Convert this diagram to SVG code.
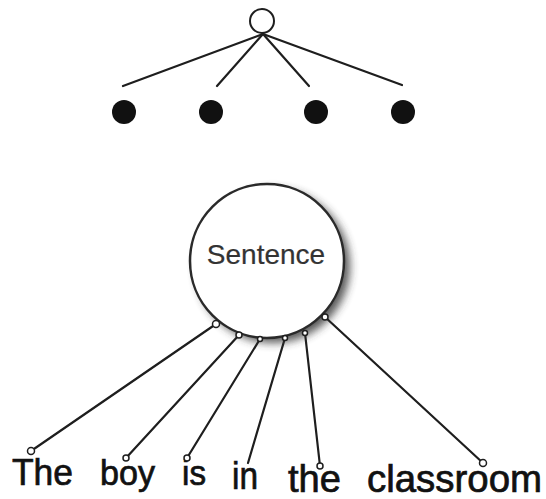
<svg xmlns="http://www.w3.org/2000/svg" width="546" height="499" viewBox="0 0 546 499">
<defs>
<filter id="shadow" x="-30%" y="-30%" width="160%" height="160%">
<feGaussianBlur stdDeviation="4"/>
</filter>
<style>
.ln{stroke:#1e1e1e;stroke-width:2.2;fill:none;stroke-linecap:round}
.mk{fill:#fff;stroke:#1e1e1e;stroke-width:1.5}
.dot{fill:#111}
.word{font-family:"Liberation Sans",Arial,sans-serif;fill:#111;stroke:#111;stroke-width:0.7}
</style>
</defs>
<rect width="546" height="499" fill="#fff"/>

<g id="tree-connectors">
<line class="ln" x1="263" y1="34" x2="123" y2="86"/>
<line class="ln" x1="263" y1="34" x2="217" y2="86"/>
<line class="ln" x1="263" y1="34" x2="309" y2="86"/>
<line class="ln" x1="263" y1="34" x2="402" y2="85"/>
</g>
<g id="root"><circle cx="262" cy="21" r="12" fill="#fff" stroke="#1e1e1e" stroke-width="2"/></g>
<g id="leaf1"><circle class="dot" cx="124" cy="112" r="12"/></g>
<g id="leaf2"><circle class="dot" cx="211" cy="112" r="12"/></g>
<g id="leaf3"><circle class="dot" cx="316" cy="112" r="12"/></g>
<g id="leaf4"><circle class="dot" cx="403" cy="112" r="12"/></g>

<g id="connectors">
<line class="ln" x1="216" y1="324" x2="31" y2="451"/>
<line class="ln" x1="239" y1="335" x2="126" y2="458"/>
<line class="ln" x1="260" y1="339" x2="187" y2="458"/>
<line class="ln" x1="285" y1="338" x2="248" y2="463"/>
<line class="ln" x1="305" y1="333" x2="320" y2="466"/>
<line class="ln" x1="325" y1="317" x2="483" y2="463"/>
</g>

<g id="sentence">
<circle cx="273" cy="266" r="77" fill="#333" opacity="0.8" filter="url(#shadow)"/>
<circle cx="267" cy="261" r="77" fill="#fff" stroke="#2a2a2a" stroke-width="2.5"/>
<text x="266" y="264" font-family="'Liberation Sans', Arial, sans-serif" font-size="28" text-anchor="middle" fill="#333" stroke="#333" stroke-width="0.2">Sentence</text>
<circle class="mk" cx="216" cy="324" r="3.5"/>
<circle class="mk" cx="239" cy="335" r="3"/>
<circle class="mk" cx="260" cy="339" r="2.5"/>
<circle class="mk" cx="285" cy="338" r="2.5"/>
<circle class="mk" cx="305" cy="333" r="2.5"/>
<circle class="mk" cx="325" cy="317" r="3"/>
</g>

<g id="w-the1">
<text class="word" x="12" y="485" font-size="36" textLength="61" lengthAdjust="spacingAndGlyphs">The</text>
<circle class="mk" cx="31" cy="451" r="3.5"/>
</g>
<g id="w-boy">
<text class="word" x="100" y="485" font-size="35" textLength="55" lengthAdjust="spacingAndGlyphs">boy</text>
<circle class="mk" cx="126" cy="458" r="3"/>
</g>
<g id="w-is">
<text class="word" x="182" y="485" font-size="35" textLength="24" lengthAdjust="spacingAndGlyphs">is</text>
<circle class="mk" cx="187" cy="458" r="3"/>
</g>
<g id="w-in">
<text class="word" x="232" y="489" font-size="38" textLength="26" lengthAdjust="spacingAndGlyphs">in</text>
</g>
<g id="w-the2">
<text class="word" x="288" y="492" font-size="38" textLength="53" lengthAdjust="spacingAndGlyphs">the</text>
<circle class="mk" cx="320" cy="466" r="3"/>
</g>
<g id="w-classroom">
<text class="word" x="367" y="492" font-size="38" textLength="175" lengthAdjust="spacingAndGlyphs">classroom</text>
<circle class="mk" cx="483" cy="463" r="3.5"/>
</g>
</svg>
